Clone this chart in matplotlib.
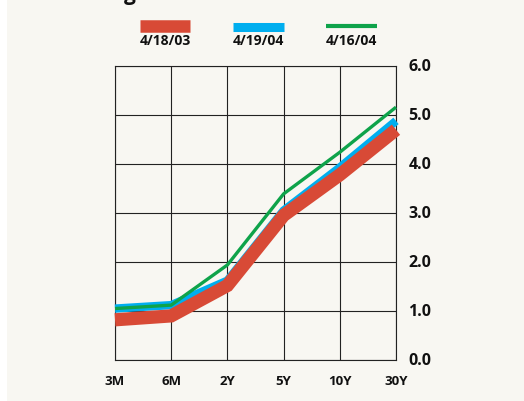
import matplotlib.pyplot as plt
from matplotlib.lines import Line2D
from matplotlib.patches import Rectangle

# Treasury yield curves
maturities = ["3M", "6M", "2Y", "5Y", "10Y", "30Y"]
curve_041803 = [0.82, 0.90, 1.52, 2.95, 3.78, 4.70]
curve_041904 = [1.05, 1.12, 1.62, 3.05, 3.93, 4.88]
curve_041604 = [1.05, 1.12, 1.94, 3.39, 4.24, 5.16]
series_labels = ["4/18/03", "4/19/04", "4/16/04"]
y_ticks = [0, 1, 2, 3, 4, 5, 6]

red = "#d84a36"
blue = "#00aeef"
green = "#0ea34a"
bg = "#f8f7f2"

plt.rcParams['font.family'] = ['Open Sans', 'DejaVu Sans']

fig = plt.figure(figsize=(5.24, 4.02), dpi=100)
fig.patch.set_facecolor("white")
fig.add_artist(Rectangle((7 / 524, 0), 1, 1, transform=fig.transFigure,
                         facecolor=bg, edgecolor="none", zorder=-10))

ax = fig.add_axes([115 / 524, 41 / 402, 281 / 524, 294 / 402])
ax.set_facecolor(bg)

x = list(range(len(maturities)))
styles = [(curve_041803, red, 9.5), (curve_041904, blue, 6.0), (curve_041604, green, 2.4)]
for vals, col, lw in styles:
    ax.plot(x, vals, color=col, lw=lw, solid_capstyle="butt",
            solid_joinstyle="miter", clip_on=False, zorder=3)
# red sits on top of blue in the reference
ax.lines[0].set_zorder(4)

ax.set_xlim(0, len(maturities) - 1)
ax.set_ylim(0, 6)
ax.set_xticks(x)
ax.set_xticklabels(maturities)
ax.set_yticks(y_ticks)
ax.set_yticklabels([f"{v:.1f}" for v in y_ticks])
ax.yaxis.tick_right()
ax.grid(True, color="#222222", lw=0.8)
for s in ax.spines.values():
    s.set_color("#222222")
    s.set_linewidth(0.8)
ax.tick_params(length=0)
ax.tick_params(axis="y", pad=9, labelsize=11.5)
ax.tick_params(axis="x", pad=10, labelsize=9.5)
for lab in ax.get_xticklabels() + ax.get_yticklabels():
    lab.set_fontweight("bold")
    lab.set_color("#111111")
for lab in ax.get_yticklabels():
    lab.set_verticalalignment("center")

# legend across the top
leg_x = [(140, 190), (233, 284), (326, 377)]
leg_y = [27, 27.5, 27]
leg_lw = [9.0, 6.5, 3.0]
for (x0, x1), yy, lw, (_, col, _), lab in zip(leg_x, leg_y, leg_lw, styles, series_labels):
    fig.add_artist(Line2D([x0 / 524, x1 / 524], [1 - yy / 402, 1 - yy / 402],
                          transform=fig.transFigure, color=col, lw=lw,
                          solid_capstyle="butt"))
    fig.text((x0 + x1) / 2 / 524, 1 - 41 / 402, lab, ha="center", va="center",
             fontsize=10, fontweight="bold", color="#111111")

# bit of the cropped title above
fig.text(124 / 524, 1.0, "g", ha="left", va="baseline", fontsize=15,
         fontweight="bold", color="#111111")

fig.savefig("out.png", dpi=100, facecolor=fig.get_facecolor())
